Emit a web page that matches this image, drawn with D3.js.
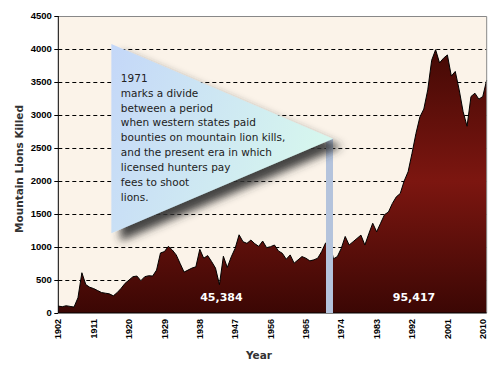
<!DOCTYPE html>
<html>
<head>
    <title>Mountain Lions Killed</title>
    <script src="https://cdnjs.cloudflare.com/ajax/libs/d3/7.8.5/d3.min.js"></script>
    <style>
        body {
            margin: 0;
            background-color: #fff;
        }

        svg {
            display: block;
        }

        .tick-label {
            font-family: "Liberation Sans", Arial, sans-serif;
            font-size: 9px;
            font-weight: bold;
            fill: #000;
        }

        .tick-label.y {
            font-size: 9.5px;
        }

        .axis-title {
            font-family: "DejaVu Sans", Verdana, sans-serif;
            font-size: 10.5px;
            font-weight: bold;
            fill: #333;
        }

        .total {
            font-family: "DejaVu Sans", Verdana, sans-serif;
            font-size: 11px;
            font-weight: bold;
            fill: #fff;
        }

        .note {
            font-family: "DejaVu Sans", Tahoma, sans-serif;
            font-size: 10.5px;
            fill: #222;
        }
    </style>
</head>

<body>
    <div id="chart"></div>

    <script>
        // mountain lions killed per year
        const years = d3.range(1902, 2012);
        const killed = [
            105, 95, 110, 100, 90, 230, 610, 430, 390, 370,
            340, 310, 300, 290, 260, 310, 375, 450, 500, 550,
            560, 490, 550, 565, 560, 650, 910, 930, 1010, 955,
            880, 750, 620, 650, 680, 700, 965, 830, 870, 780,
            680, 430, 860, 690, 850, 980, 1185, 1080, 1055, 1105,
            1050, 1010, 1090, 990, 1005, 1030, 940, 905, 815, 880,
            755, 805, 855, 830, 790, 805, 830, 930, 1060, 1100,
            820, 855, 980, 1160, 1030, 1080, 1130, 1180, 1030, 1200,
            1360, 1230, 1360, 1490, 1530, 1660, 1760, 1810, 2000, 2140,
            2420, 2720, 2970, 3090, 3380, 3830, 3990, 3790, 3860, 3910,
            3590, 3660, 3380, 3050, 2830, 3280, 3330, 3240, 3280, 3530
        ];
        const yTicks = [0, 500, 1000, 1500, 2000, 2500, 3000, 3500, 4000, 4500];
        const xTickYears = d3.range(1902, 2011, 9);
        const divideYear = 1971;
        const totals = [
            { label: "45,384", year: 1943.5 },
            { label: "95,417", year: 1992.5 }
        ];
        const noteLines = [
            "1971",
            "marks a divide",
            "between a period",
            "when western states paid",
            "bounties on mountain lion kills,",
            "and the present era in which",
            "licensed hunters pay",
            "fees to shoot",
            "lions."
        ];

        const width = 500, height = 371;
        const plotLeft = 58.3, plotRight = 486.7, plotTop = 16, plotBottom = 313;

        const svg = d3.select("#chart").append("svg")
            .attr("width", width)
            .attr("height", height);

        const x = d3.scaleLinear().domain([1902, 2011]).range([plotLeft, plotRight]);
        const y = d3.scaleLinear().domain([0, 4500]).range([plotBottom, plotTop]);

        const defs = svg.append("defs");

        const areaGrad = defs.append("linearGradient")
            .attr("id", "areaGrad")
            .attr("gradientUnits", "userSpaceOnUse")
            .attr("x1", 0).attr("y1", y(4000))
            .attr("x2", 0).attr("y2", plotBottom);
        areaGrad.append("stop").attr("offset", 0).attr("stop-color", "#440905");
        areaGrad.append("stop").attr("offset", 0.5).attr("stop-color", "#7c1610");
        areaGrad.append("stop").attr("offset", 1).attr("stop-color", "#3b0704");

        const flagGrad = defs.append("linearGradient")
            .attr("id", "flagGrad")
            .attr("x1", 0).attr("y1", 0)
            .attr("x2", 1).attr("y2", 0.3);
        flagGrad.append("stop").attr("offset", 0).attr("stop-color", "#c4d7f8");
        flagGrad.append("stop").attr("offset", 1).attr("stop-color", "#d6f6ee");

        const shadow = defs.append("filter")
            .attr("id", "shadow")
            .attr("x", "-20%").attr("y", "-20%")
            .attr("width", "150%").attr("height", "150%");
        shadow.append("feDropShadow")
            .attr("dx", 9).attr("dy", 8)
            .attr("stdDeviation", 4)
            .attr("flood-color", "#333")
            .attr("flood-opacity", 0.9);

        // plot background
        svg.append("rect")
            .attr("x", plotLeft).attr("y", plotTop)
            .attr("width", plotRight - plotLeft).attr("height", plotBottom - plotTop)
            .attr("fill", "#fbf3e9");

        // dashed gridlines
        svg.append("g")
            .selectAll("line")
            .data(yTicks.filter(d => d > 0 && d < 4500))
            .enter().append("line")
            .attr("x1", plotLeft).attr("x2", plotRight)
            .attr("y1", d => Math.round(y(d)) + 0.5)
            .attr("y2", d => Math.round(y(d)) + 0.5)
            .attr("stroke", "#000")
            .attr("stroke-dasharray", "4,3");

        const data = years.map((yr, i) => ({ year: yr, value: killed[i] }));

        svg.append("path")
            .datum(data)
            .attr("fill", "url(#areaGrad)")
            .attr("d", d3.area().x(d => x(d.year)).y0(plotBottom).y1(d => y(d.value)));

        svg.append("path")
            .datum(data)
            .attr("fill", "none")
            .attr("stroke", "#000")
            .attr("stroke-width", 1)
            .attr("d", d3.line().x(d => x(d.year)).y(d => y(d.value)));

        // frame: grey top/right, black axes
        svg.append("path")
            .attr("d", `M${plotLeft},${plotTop + 0.5}H${plotRight}V${plotBottom}`)
            .attr("fill", "none")
            .attr("stroke", "#888");
        svg.append("path")
            .attr("d", `M${plotLeft},${plotTop}V${plotBottom}H${plotRight}`)
            .attr("fill", "none")
            .attr("stroke", "#000");

        // y ticks and labels
        const yAxis = svg.append("g");
        yAxis.selectAll("line")
            .data(yTicks)
            .enter().append("line")
            .attr("x1", plotLeft - 4).attr("x2", plotLeft)
            .attr("y1", d => Math.round(y(d)) + 0.5)
            .attr("y2", d => Math.round(y(d)) + 0.5)
            .attr("stroke", "#000");
        yAxis.selectAll("text")
            .data(yTicks)
            .enter().append("text")
            .attr("class", "tick-label y")
            .attr("x", plotLeft - 6.5)
            .attr("y", d => y(d))
            .attr("dy", "0.35em")
            .attr("text-anchor", "end")
            .text(d => d);

        // x labels, rotated
        svg.append("g")
            .selectAll("text")
            .data(xTickYears)
            .enter().append("text")
            .attr("class", "tick-label")
            .attr("transform", d => `translate(${x(d)},${plotBottom + 6}) rotate(-90)`)
            .attr("dy", "0.35em")
            .attr("text-anchor", "end")
            .text(d => d);

        svg.append("text")
            .attr("class", "axis-title")
            .attr("x", 259)
            .attr("y", 359)
            .attr("text-anchor", "middle")
            .text("Year");

        svg.append("text")
            .attr("class", "axis-title")
            .attr("transform", `translate(22.5,169) rotate(-90)`)
            .attr("text-anchor", "middle")
            .text("Mountain Lions Killed");

        // 1971 divider post and flag
        const tipX = x(divideYear) + 3.5, tipY = y(2640);
        svg.append("rect")
            .attr("x", x(divideYear) - 3.5)
            .attr("y", tipY)
            .attr("width", 7)
            .attr("height", plotBottom - tipY)
            .attr("fill", "#b4c3dc");

        const flagLeft = x(1915.5), flagTop = y(4075), flagBottom = y(1210);
        svg.append("path")
            .attr("d", `M${flagLeft},${flagTop}L${tipX},${tipY}L${flagLeft},${flagBottom}Z`)
            .attr("fill", "url(#flagGrad)")
            .attr("filter", "url(#shadow)");

        svg.append("g")
            .selectAll("text")
            .data(noteLines)
            .enter().append("text")
            .attr("class", "note")
            .attr("x", flagLeft + 9.5)
            .attr("y", (d, i) => flagTop + 37.7 + i * 14.9)
            .text(d => d);

        svg.append("g")
            .selectAll("text")
            .data(totals)
            .enter().append("text")
            .attr("class", "total")
            .attr("x", d => x(d.year))
            .attr("y", 300.7)
            .attr("text-anchor", "middle")
            .text(d => d.label);
    </script>
</body>
</html>
